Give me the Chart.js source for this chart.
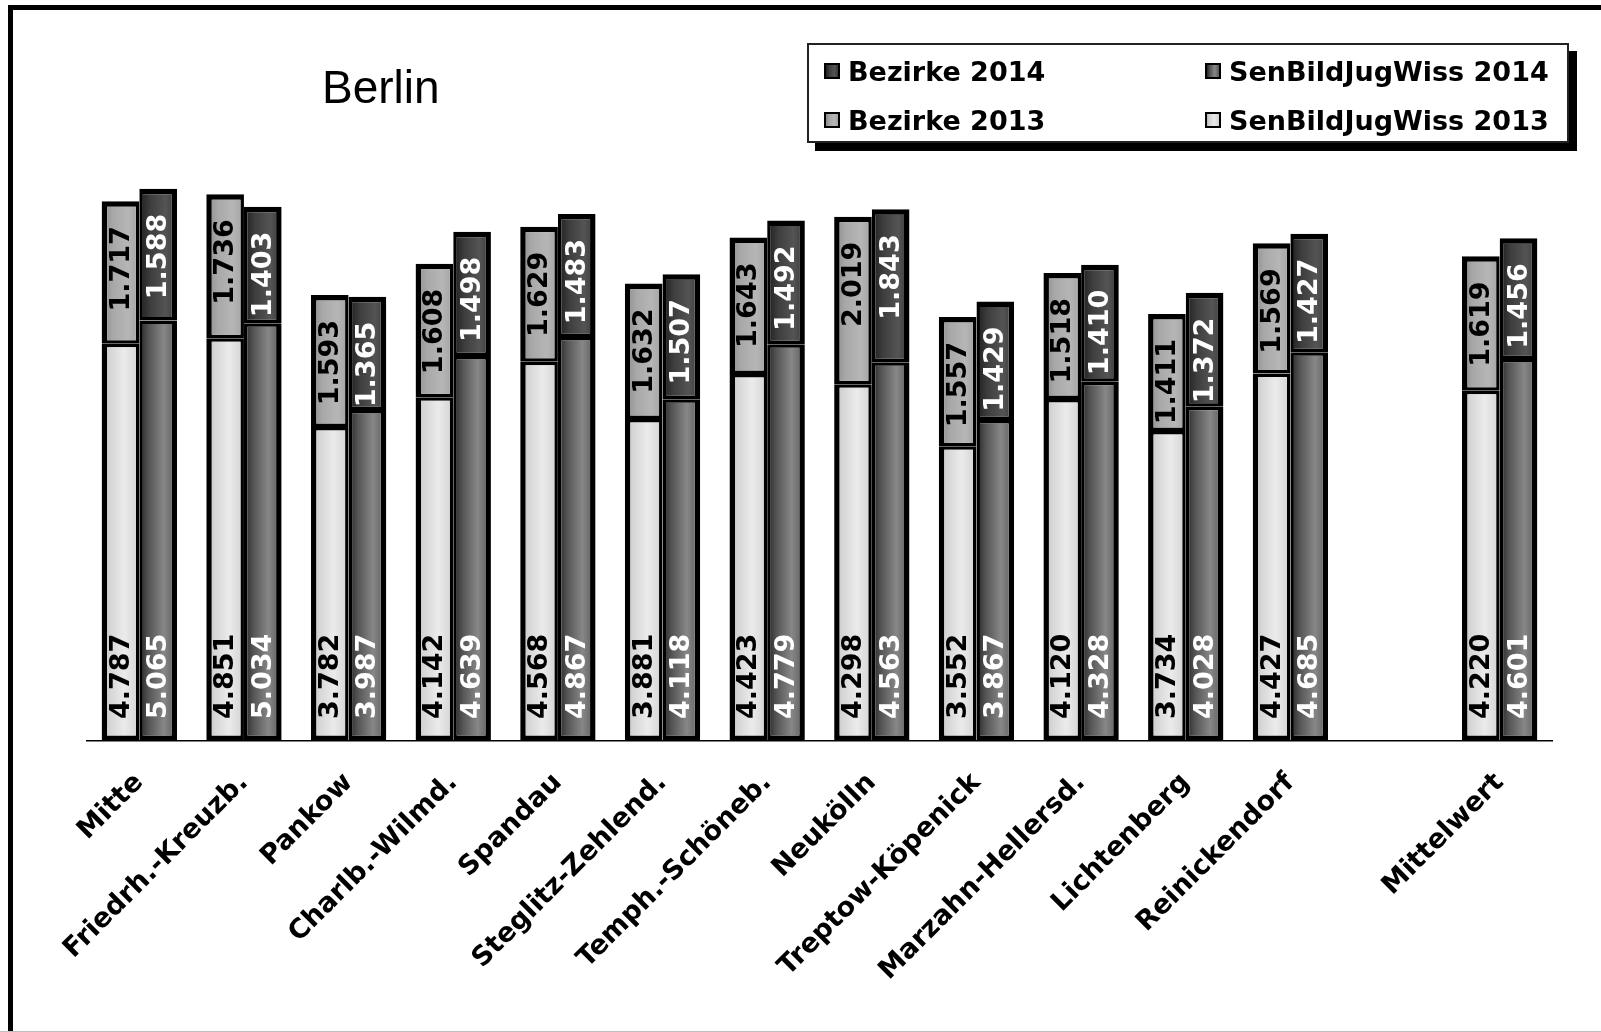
<!DOCTYPE html>
<html>
<head>
<meta charset="utf-8">
<script src="https://cdn.jsdelivr.net/npm/chart.js@4.4.1/dist/chart.umd.min.js"></script>
<style>
html,body{margin:0;padding:0;background:#fff;overflow:hidden;}
#wrap{position:relative;width:1601px;height:1032px;overflow:hidden;}
#frame{position:absolute;left:8px;top:5px;width:1700px;height:1200px;border-left:5px solid #000;border-top:5px solid #000;}
#bottomline{position:absolute;left:0;top:1031px;width:1601px;height:1px;background:#bdbdbd;}
canvas{position:absolute;left:0;top:0;}
#title{position:absolute;left:322px;top:64px;font:46px/46px "Liberation Sans",Arial,sans-serif;color:#000;white-space:nowrap;}
#legend{position:absolute;left:807px;top:43px;width:762px;height:100px;border:2px solid #222;background:#fff;box-shadow:8px 8px 0 #000;box-sizing:border-box;font:bold 27px "DejaVu Sans",Verdana,sans-serif;color:#000;}
.item{position:absolute;display:flex;align-items:center;white-space:nowrap;height:30px;}
.sw{width:12px;height:12px;border:2px solid #000;margin-right:8px;flex:none;}
</style>
</head>
<body>
<div id="wrap">
  <div id="frame"></div>
  <div id="bottomline"></div>
  <canvas id="c" width="1601" height="1032"></canvas>
  <div id="title">Berlin</div>
  <div id="legend"></div>
</div>
<script>
// ---- data ----
const categories = ['Mitte','Friedrh.-Kreuzb.','Pankow','Charlb.-Wilmd.','Spandau','Steglitz-Zehlend.','Temph.-Schöneb.','Neukölln','Treptow-Köpenick','Marzahn-Hellersd.','Lichtenberg','Reinickendorf','','Mittelwert'];
const senBildJugWiss2013 = [4787,4851,3782,4142,4568,3881,4423,4298,3552,4120,3734,4427,null,4220];
const bezirke2013        = [1717,1736,1593,1608,1629,1632,1643,2019,1557,1518,1411,1569,null,1619];
const senBildJugWiss2014 = [5065,5034,3987,4639,4867,4118,4779,4563,3867,4328,4028,4685,null,4601];
const bezirke2014        = [1588,1403,1365,1498,1483,1507,1492,1843,1429,1410,1372,1427,null,1456];
const yMax = 7000;

// ---- styles ----
const CAT_PCT = 0.72;
const OUTER = 5.5, INNER = 3.5;
const gradStops = {
  sen2013: [[0,'#b8b8b8'],[0.2,'#d4d4d4'],[0.6,'#ebebeb'],[1,'#d2d2d2']],
  bez2013: [[0,'#8a8a8a'],[0.3,'#a8a8a8'],[0.7,'#b6b6b6'],[1,'#a2a2a2']],
  sen2014: [[0,'#262626'],[0.25,'#555555'],[0.65,'#878787'],[1,'#5a5a5a']],
  bez2014: [[0,'#1e1e1e'],[0.3,'#3e3e3e'],[0.7,'#545454'],[1,'#383838']]
};
function cssGrad(key){
  return 'linear-gradient(90deg,' + gradStops[key].map(s => s[1] + ' ' + (s[0]*100) + '%').join(',') + ')';
}
function makeBg(key, stackIdx){
  return function(ctx){
    const chart = ctx.chart;
    const xs = chart.scales.x;
    if (!chart.chartArea || !xs || ctx.dataIndex === undefined) return gradStops[key][2][1];
    const catW = xs.width / categories.length;
    const bw = catW * CAT_PCT / 2;
    const center = xs.getPixelForValue(ctx.dataIndex);
    const left = stackIdx === 0 ? center - bw : center;
    const g = chart.ctx.createLinearGradient(left, 0, left + bw, 0);
    gradStops[key].forEach(s => g.addColorStop(s[0], s[1]));
    return g;
  };
}
function fmt(v){
  return Math.floor(v/1000) + '.' + String(v % 1000).padStart(3,'0');
}
function bw(stackIdx, isTop){
  return {
    left: stackIdx === 0 ? OUTER : INNER,
    right: stackIdx === 0 ? INNER : OUTER,
    top: isTop ? OUTER : INNER,
    bottom: isTop ? INNER : OUTER
  };
}

const common = {borderColor:'#000', borderSkipped:false};
const datasets = [
  Object.assign({label:'SenBildJugWiss 2013', data:senBildJugWiss2013, stack:'2013', backgroundColor:makeBg('sen2013',0), borderWidth:bw(0,false), _pos:'bottom', _lc:'#000'}, common),
  Object.assign({label:'Bezirke 2013', data:bezirke2013, stack:'2013', backgroundColor:makeBg('bez2013',0), borderWidth:bw(0,true), _pos:'top', _lc:'#000'}, common),
  Object.assign({label:'SenBildJugWiss 2014', data:senBildJugWiss2014, stack:'2014', backgroundColor:makeBg('sen2014',1), borderWidth:bw(1,false), _pos:'bottom', _lc:'#fff'}, common),
  Object.assign({label:'Bezirke 2014', data:bezirke2014, stack:'2014', backgroundColor:makeBg('bez2014',1), borderWidth:bw(1,true), _pos:'top', _lc:'#fff'}, common)
];

const labelPlugin = {
  id:'barLabels',
  afterDatasetsDraw(chart){
    const ctx = chart.ctx;
    chart.data.datasets.forEach((ds,i) => {
      const meta = chart.getDatasetMeta(i);
      meta.data.forEach((bar,j) => {
        const v = ds.data[j];
        if (v == null) return;
        const p = bar.getProps(['x','y','base'], true);
        ctx.save();
        if (ds._pos === 'top') {
          ctx.translate(p.x, p.y + 25);
          ctx.rotate(-Math.PI/2);
          ctx.textAlign = 'right';
        } else {
          ctx.translate(p.x, p.base - 22);
          ctx.rotate(-Math.PI/2);
          ctx.textAlign = 'left';
        }
        ctx.textBaseline = 'middle';
        ctx.font = 'bold 27px "DejaVu Sans", Verdana, sans-serif';
        ctx.fillStyle = ds._lc;
        ctx.fillText(fmt(v), 0, 1);
        ctx.restore();
      });
    });
  }
};

new Chart(document.getElementById('c'), {
  type:'bar',
  data:{labels:categories, datasets:datasets},
  options:{
    responsive:false,
    animation:false,
    events:[],
    categoryPercentage:CAT_PCT,
    barPercentage:1.0,
    layout:{padding:{left:87, right:49, top:160, bottom:0}},
    plugins:{legend:{display:false}, title:{display:false}, tooltip:{enabled:false}},
    scales:{
      x:{
        stacked:true,
        grid:{display:false, drawTicks:false},
        border:{display:true, color:'#000', width:1.5},
        ticks:{autoSkip:false, minRotation:45, maxRotation:45, padding:26, color:'#000',
               font:{family:'"DejaVu Sans", Verdana, sans-serif', size:27, weight:'bold'}},
        afterFit(axis){ axis.height = 1032 - 741; }
      },
      y:{stacked:true, display:false, min:0, max:yMax}
    }
  },
  plugins:[labelPlugin]
});

// legend (HTML)
const legendItems = [
  {t:'Bezirke 2014', k:'bez2014', x:15, y:11},
  {t:'SenBildJugWiss 2014', k:'sen2014', x:396, y:11},
  {t:'Bezirke 2013', k:'bez2013', x:15, y:60},
  {t:'SenBildJugWiss 2013', k:'sen2013', x:396, y:60}
];
const lg = document.getElementById('legend');
legendItems.forEach(it => {
  const d = document.createElement('div');
  d.className = 'item';
  d.style.left = it.x + 'px';
  d.style.top = it.y + 'px';
  const sw = document.createElement('span');
  sw.className = 'sw';
  sw.style.background = cssGrad(it.k);
  const tx = document.createElement('span');
  tx.textContent = it.t;
  d.appendChild(sw); d.appendChild(tx);
  lg.appendChild(d);
});
</script>
</body>
</html>
